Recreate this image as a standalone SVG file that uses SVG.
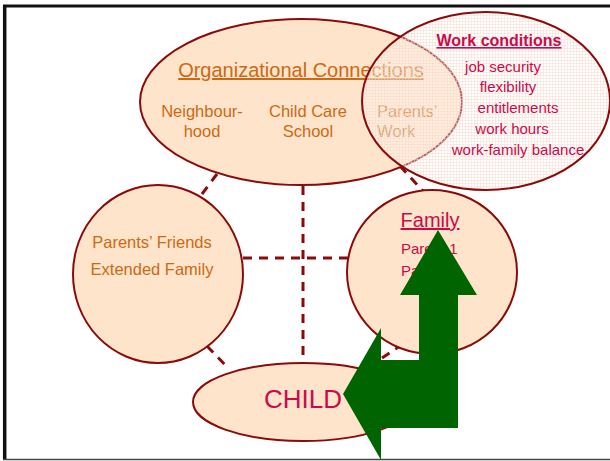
<svg xmlns="http://www.w3.org/2000/svg" width="610" height="461" viewBox="0 0 610 461">
<defs>
<style>
.node{fill:#fde4cb;stroke:#8b0a0a;stroke-width:2}
.conn{stroke:#8b0a0a;stroke-width:3;stroke-dasharray:9 7;fill:none}
.t{font-family:"Liberation Sans",Arial,sans-serif}
.org{fill:#cc6a14}
.red{fill:#cc0a4a}
</style>
<pattern id="grid" width="3" height="3" patternUnits="userSpaceOnUse">
<rect width="3" height="3" fill="#ffffff" fill-opacity="0.35"/>
<path d="M0 0.5H3M0.5 0V3" stroke="#f6d8c8" stroke-width="1" stroke-opacity="0.45"/>
</pattern>
</defs>
<rect width="610" height="461" fill="#ffffff"/>
<g id="frame" fill="none">
<path d="M3 6H610" stroke="#111" stroke-width="3"/>
<path d="M4.7 5V460" stroke="#111" stroke-width="3.5"/>
<path d="M3 459.5H610" stroke="#444" stroke-width="1.5"/>
</g>
<g id="connectors">
<line class="conn" x1="217" y1="174" x2="199" y2="198"/>
<line class="conn" x1="303" y1="186" x2="303" y2="362"/>
<line class="conn" x1="243" y1="258" x2="348" y2="258"/>
<line class="conn" x1="207" y1="346" x2="228" y2="368"/>
<line class="conn" x1="400" y1="166" x2="423" y2="191"/>
<line class="conn" x1="382" y1="358" x2="400" y2="346"/>
</g>
<g id="org">
<ellipse class="node" cx="301" cy="102" rx="161" ry="83"/>
<text class="t org" x="301" y="77" font-size="20" text-anchor="middle" text-decoration="underline">Organizational Connections</text>
<text class="t org" x="202" y="117" font-size="16.5" text-anchor="middle">Neighbour-</text>
<text class="t org" x="202" y="137" font-size="16.5" text-anchor="middle">hood</text>
<text class="t org" x="308" y="117" font-size="16.5" text-anchor="middle">Child Care</text>
<text class="t org" x="308" y="137" font-size="16.5" text-anchor="middle">School</text>
<text class="t org" x="377" y="117" font-size="16.5">Parents’</text>
<text class="t org" x="377" y="137" font-size="16.5">Work</text>
</g>
<g id="friends">
<ellipse class="node" cx="158" cy="274" rx="85" ry="89"/>
<text class="t org" x="152" y="248" font-size="16.5" text-anchor="middle">Parents’ Friends</text>
<text class="t org" x="152" y="275" font-size="16.5" text-anchor="middle">Extended Family</text>
</g>
<g id="family">
<ellipse class="node" cx="432" cy="272" rx="85" ry="82"/>
<text class="t red" x="430" y="227" font-size="20" text-anchor="middle" text-decoration="underline">Family</text>
<text class="t red" x="401" y="254" font-size="15">Parent 1</text>
<text class="t red" x="401" y="276" font-size="15">Parent 2</text>
</g>
<g id="child">
<ellipse class="node" cx="303" cy="402" rx="110" ry="39"/>
<text class="t red" x="303" y="408" font-size="26" text-anchor="middle">CHILD</text>
</g>
<g id="work">
<ellipse cx="486" cy="101" rx="124" ry="89" fill="url(#grid)" stroke="#8b0a0a" stroke-width="2"/>
<text class="t red" x="499" y="46" font-size="16" font-weight="bold" text-anchor="middle" text-decoration="underline">Work conditions</text>
<text class="t red" x="503" y="72" font-size="15" text-anchor="middle">job security</text>
<text class="t red" x="508" y="92" font-size="15" text-anchor="middle">flexibility</text>
<text class="t red" x="518" y="113" font-size="15" text-anchor="middle">entitlements</text>
<text class="t red" x="512" y="134" font-size="15" text-anchor="middle">work hours</text>
<text class="t red" x="518" y="155" font-size="15" text-anchor="middle">work-family balance</text>
</g>
<g id="arrow">
<polygon fill="#006400" points="438,230 477,295 458,295 458,428 381,428 381,460 343,394 381,328 381,360 419,360 419,295 400,295"/>
</g>
</svg>
